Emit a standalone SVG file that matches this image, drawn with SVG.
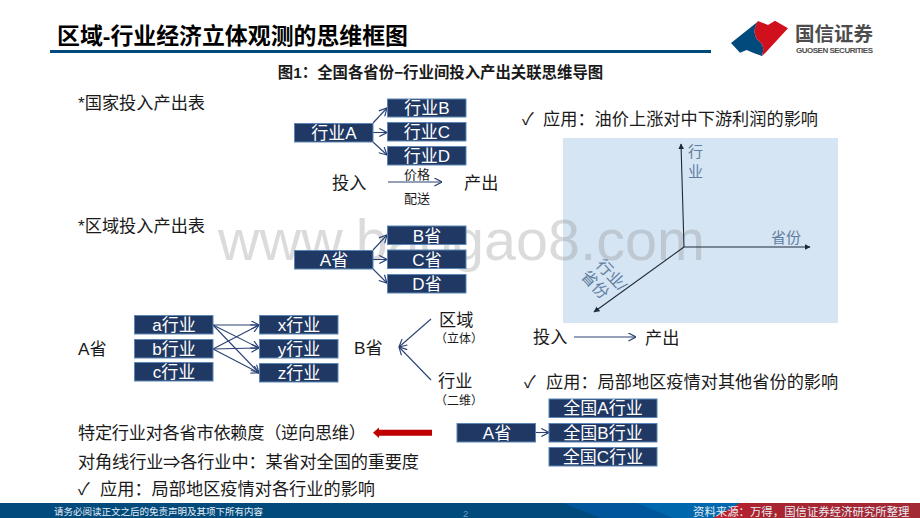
<svg xmlns="http://www.w3.org/2000/svg" width="920" height="518" viewBox="0 0 920 518">
<style>
text{font-family:"Liberation Sans","Noto Sans CJK SC",sans-serif;fill:#1a1a1a}
.t{font-size:17.200px}
.s{font-size:13px}
.xs{font-size:12px}
.box rect{fill:#1f3864;stroke:#5b86b5;stroke-width:1}
.box text{fill:#fff;font-size:17px;text-anchor:middle}
.c line{fill:none;stroke:#2a4172;stroke-width:1.1;marker-end:url(#a)}
.ax line{stroke:#1f2a3a;stroke-width:1.1;marker-end:url(#b)}
.ax text{fill:#5f7d9f;font-size:15px}
#footer text{fill:#e6edf4}
</style>
<defs>
<marker id="a" viewBox="0 0 10 10" refX="9.500" refY="5" markerWidth="9" markerHeight="9" markerUnits="userSpaceOnUse" orient="auto"><path d="M1 0.500L9.500 5L1 9.500" fill="none" stroke="#2a4172" stroke-width="1.300"/></marker>
<marker id="b" viewBox="0 0 10 10" refX="9" refY="5" markerWidth="6" markerHeight="6" markerUnits="userSpaceOnUse" orient="auto"><path d="M0 0L10 5L0 10Z" fill="#1f2a3a"/></marker>
<linearGradient id="g" x1="0" x2="1" y1="0" y2="0"><stop offset="0" stop-color="#c4202c"/><stop offset="0.25" stop-color="#a82430"/><stop offset="1" stop-color="#a32a35"/></linearGradient>
</defs>

<g id="header">
<text x="57" y="44" style="font-size:22.900px;font-weight:bold;fill:#000">区域-行业经济立体观测的思维框图</text>
<rect x="50" y="50" width="661" height="3" fill="#004a7c"/>
<text x="440.500" y="77.500" text-anchor="middle" style="font-size:15.400px;font-weight:bold">图1：全国各省份−行业间投入产出关联思维导图</text>
</g>

<g id="logo">
<path d="M731 43L758 21.500C752 30 755 38 759 41C764 45 764 50 762 56L753 52.700L746.700 50L740 52.700Z" fill="#004a7c"/>
<path d="M758 21L768 25L775 20.700L788 28.300L765 53.300L762 56C764 50 764 45 759 41C755 38 752 30 758 21Z" fill="#d0101c"/>
<text x="795" y="41" style="font-size:19.500px;font-weight:bold;fill:#4d4d4d" textLength="78">国信证券</text>
<text x="796" y="52.700" style="font-size:8px;font-weight:bold;fill:#4d4d4d" textLength="77">GUOSEN SECURITIES</text>
</g>

<rect id="chart-bg" x="563" y="138" width="275" height="185" fill="#d6e5f3"/>

<text id="watermark" x="218" y="260" style="font-size:57.500px;fill:#7f7f7f;fill-opacity:.28" textLength="487">www.baogao8.com</text>

<g id="connectors" class="c">
<line x1="373" y1="123" x2="387" y2="108"/>
<line x1="373" y1="132.500" x2="387" y2="132.500"/>
<line x1="373" y1="142" x2="387" y2="155"/>
<line x1="388" y1="182" x2="442" y2="182"/>
<line x1="373" y1="250" x2="387" y2="235"/>
<line x1="373" y1="259.500" x2="387" y2="259.500"/>
<line x1="373" y1="269" x2="387" y2="283"/>
<line x1="213" y1="325" x2="259" y2="325"/>
<line x1="213" y1="325" x2="259" y2="348"/>
<line x1="213" y1="325" x2="259" y2="373"/>
<line x1="213" y1="349" x2="259" y2="325"/>
<line x1="213" y1="349" x2="259" y2="348"/>
<line x1="213" y1="349" x2="259" y2="373"/>
<line x1="431" y1="319" x2="399" y2="347"/>
<line x1="431" y1="380" x2="399" y2="347"/>
<line x1="574" y1="337" x2="636" y2="337"/>
<line x1="536" y1="432.500" x2="549" y2="432.500"/>
</g>

<g id="n-hangyeA" class="box"><rect x="294.500" y="123.500" width="78.500" height="18.500"/><text x="334" y="139">行业A</text></g>
<g id="n-hangyeB" class="box"><rect x="387.500" y="99" width="78.500" height="18"/><text x="427" y="114">行业B</text></g>
<g id="n-hangyeC" class="box"><rect x="387.500" y="122.500" width="78.500" height="18.500"/><text x="427" y="138">行业C</text></g>
<g id="n-hangyeD" class="box"><rect x="387.500" y="146.500" width="78.500" height="18.500"/><text x="427" y="162">行业D</text></g>
<g id="n-shengA" class="box"><rect x="294.500" y="250.500" width="78.500" height="18.500"/><text x="334" y="266">A省</text></g>
<g id="n-shengB" class="box"><rect x="387.500" y="226" width="78.500" height="18.500"/><text x="427" y="242">B省</text></g>
<g id="n-shengC" class="box"><rect x="387.500" y="250" width="78.500" height="18.500"/><text x="427" y="266">C省</text></g>
<g id="n-shengD" class="box"><rect x="387.500" y="274.500" width="78.500" height="18.500"/><text x="427" y="290">D省</text></g>
<g id="n-a" class="box"><rect x="134.500" y="315.500" width="78.500" height="18.500"/><text x="174" y="331">a行业</text></g>
<g id="n-b" class="box"><rect x="134.500" y="339.500" width="78.500" height="18.500"/><text x="174" y="355">b行业</text></g>
<g id="n-c" class="box"><rect x="134.500" y="362.500" width="78.500" height="18.500"/><text x="174" y="378">c行业</text></g>
<g id="n-x" class="box"><rect x="259.500" y="315.500" width="78.500" height="18.500"/><text x="299" y="331">x行业</text></g>
<g id="n-y" class="box"><rect x="259.500" y="339.500" width="78.500" height="18.500"/><text x="299" y="355">y行业</text></g>
<g id="n-z" class="box"><rect x="259.500" y="363.500" width="78.500" height="18.500"/><text x="299" y="379">z行业</text></g>
<g id="n-shengA2" class="box"><rect x="457" y="423.500" width="78.500" height="18.500"/><text x="497" y="439">A省</text></g>
<g id="n-qgA" class="box"><rect x="549" y="399" width="108" height="18.500"/><text x="603" y="414">全国A行业</text></g>
<g id="n-qgB" class="box"><rect x="549" y="423.500" width="108" height="18.500"/><text x="603" y="439">全国B行业</text></g>
<g id="n-qgC" class="box"><rect x="549" y="447.500" width="108" height="18.500"/><text x="603" y="463">全国C行业</text></g>

<g id="axes" class="ax">
<line x1="684" y1="247" x2="681" y2="144"/>
<line x1="684" y1="247" x2="810" y2="247"/>
<line x1="684" y1="247" x2="594" y2="312"/>
<text x="688" y="157">行</text>
<text x="688" y="177">业</text>
<text x="771" y="243">省份</text>
<text transform="translate(595 265.500) rotate(47)" style="font-size:16px">行业/</text>
<text transform="translate(580 276.500) rotate(47)" style="font-size:16px">省份</text>
</g>

<g id="labels">
<text class="t" x="78" y="109">*国家投入产出表</text>
<text class="t" x="78" y="232">*区域投入产出表</text>
<text class="t" x="332" y="189">投入</text>
<text class="t" x="464" y="189">产出</text>
<text class="s" x="404" y="179">价格</text>
<text class="s" x="404" y="203">配送</text>
<text class="t" x="78" y="355">A省</text>
<text class="t" x="354" y="354">B省</text>
<text class="t" x="439" y="326">区域</text>
<text class="xs" x="435" y="343">（立体）</text>
<text class="t" x="438" y="387">行业</text>
<text class="xs" x="435" y="405">（二维）</text>
<text class="t" x="522" y="125">✓</text>
<text class="t" x="543" y="125">应用：油价上涨对中下游利润的影响</text>
<text class="t" x="533" y="343">投入</text>
<text class="t" x="645" y="344">产出</text>
<text class="t" x="524" y="388">✓</text>
<text class="t" x="546" y="388">应用：局部地区疫情对其他省份的影响</text>
<text class="t" x="78" y="439" textLength="288">特定行业对各省市依赖度（逆向思维）</text>
<text class="t" x="78" y="468" textLength="341">对角线行业⇒各行业中：某省对全国的重要度</text>
<text class="t" x="78" y="495">✓</text>
<text class="t" x="100" y="495">应用：局部地区疫情对各行业的影响</text>
</g>

<path id="red-arrow" d="M432 429.700V435.700H379V438L373 432.700L379 427.500V429.700Z" fill="#c00000"/>

<g id="footer">
<rect x="0" y="503" width="920" height="15" fill="#004a7c"/>
<path d="M563 503H740L716 518H600Z" fill="#00569a"/>
<path d="M637 503H740L716 518H673Z" fill="#0067ad"/>
<path d="M713 518L740 503H920V518Z" fill="url(#g)"/>
<text x="54" y="515" style="font-size:9.500px">请务必阅读正文之后的免责声明及其项下所有内容</text>
<text x="463" y="517" style="font-size:9.500px;fill:#6f9cc4">2</text>
<text x="693" y="516" style="font-size:11.400px">资料来源：万得，国信证券经济研究所整理</text>
</g>
</svg>
